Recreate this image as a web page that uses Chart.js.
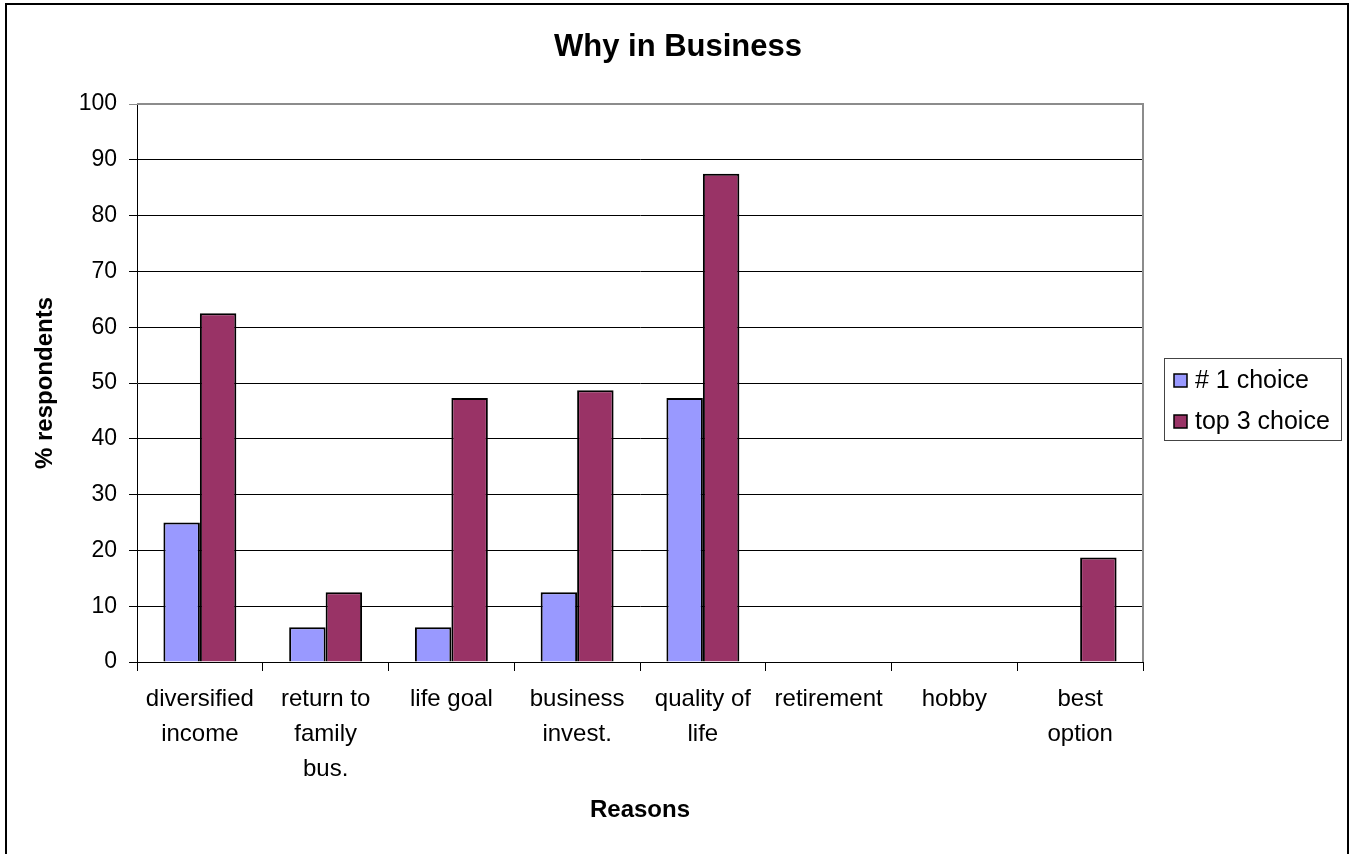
<!DOCTYPE html>
<html>
<head>
<meta charset="utf-8">
<title>Why in Business</title>
<script src="https://cdn.jsdelivr.net/npm/chart.js@4.4.1/dist/chart.umd.min.js"></script>
<style>
  html, body { margin: 0; padding: 0; background: #fff; }
  canvas { display: block; }
</style>
</head>
<body>
<canvas id="whyChart" width="1351" height="854"></canvas>
<script>
// 🔹 Chart data
const reasons = [
    ["diversified", "income"],
    ["return to", "family", "bus."],
    ["life goal"],
    ["business", "invest."],
    ["quality of", "life"],
    ["retirement"],
    ["hobby"],
    ["best", "option"]
];
const firstChoice = [25, 6.25, 6.25, 12.5, 47.3, 0, 0, 0];
const topThreeChoice = [62.5, 12.5, 47.3, 48.7, 87.5, 0, 0, 18.75];
const seriesNames = ["# 1 choice", "top 3 choice"];
const yTicks = [0, 10, 20, 30, 40, 50, 60, 70, 80, 90, 100];

const FONT = "'Liberation Sans', Arial, sans-serif";
Chart.defaults.font.family = FONT;
Chart.defaults.color = "#000";

// 🔹 Background, frame, title and legend box
const framePlugin = {
    id: "frame",
    beforeDraw(chart) {
        const ctx = chart.ctx;
        ctx.save();
        ctx.fillStyle = "#fff";
        ctx.fillRect(0, 0, chart.width, chart.height);
        ctx.restore();
    },
    afterDraw(chart) {
        const { ctx, chartArea: a } = chart;
        ctx.save();

        // grey top and right edges of the plot area
        ctx.strokeStyle = "#8c8c8c";
        ctx.lineWidth = 2;
        ctx.beginPath();
        ctx.moveTo(a.left, a.top);
        ctx.lineTo(a.right, a.top);
        ctx.lineTo(a.right, a.bottom);
        ctx.stroke();

        // outer chart border
        ctx.strokeStyle = "#000";
        ctx.lineWidth = 2;
        ctx.beginPath();
        ctx.moveTo(6, chart.height + 2);
        ctx.lineTo(6, 4);
        ctx.lineTo(1348, 4);
        ctx.lineTo(1348, chart.height + 2);
        ctx.stroke();

        // title
        ctx.fillStyle = "#000";
        ctx.font = "bold 31px " + FONT;
        ctx.textAlign = "center";
        ctx.textBaseline = "middle";
        ctx.fillText("Why in Business", 678, 47);

        // legend
        const lx = 1164, ly = 358, lw = 177, lh = 82;
        ctx.strokeStyle = "#444";
        ctx.lineWidth = 1;
        ctx.strokeRect(lx + 0.5, ly + 0.5, lw, lh);
        ctx.font = "25px " + FONT;
        ctx.textAlign = "left";
        chart.data.datasets.forEach((ds, i) => {
            const cy = 381 + i * 41;
            ctx.fillStyle = ds.backgroundColor;
            ctx.fillRect(1174, cy - 7, 13, 13);
            ctx.strokeStyle = "#000";
            ctx.lineWidth = 1.5;
            ctx.strokeRect(1174, cy - 7, 13, 13);
            ctx.fillStyle = "#000";
            ctx.fillText(ds.label, 1195, cy);
        });
        ctx.restore();
    }
};

const chart = new Chart(document.getElementById("whyChart").getContext("2d"), {
    type: "bar",
    data: {
        labels: reasons,
        datasets: [
            { label: seriesNames[0], data: firstChoice, backgroundColor: "#9999ff", borderColor: "#000", borderWidth: 2 },
            { label: seriesNames[1], data: topThreeChoice, backgroundColor: "#993366", borderColor: "#000", borderWidth: 2 }
        ]
    },
    options: {
        responsive: false,
        animation: false,
        devicePixelRatio: 1,
        layout: { padding: { left: 0, top: 104, right: 208, bottom: 0 } },
        datasets: { bar: { categoryPercentage: 0.58, barPercentage: 1.0 } },
        plugins: {
            legend: { display: false },
            title: { display: false },
            tooltip: { enabled: false }
        },
        scales: {
            x: {
                offset: true,
                grid: { offset: true, drawOnChartArea: false, drawTicks: true, tickLength: 9, color: "#000" },
                border: { display: true, color: "#000", width: 1 },
                ticks: { autoSkip: false, maxRotation: 0, padding: 11, font: { size: 24, lineHeight: 1.45 } },
                title: { display: true, text: "Reasons", font: { size: 24, weight: "bold" }, padding: { top: 0, bottom: 29 } },
                afterFit(scale) { scale.height = 192; }
            },
            y: {
                min: 0,
                max: 100,
                afterBuildTicks(scale) { scale.ticks = yTicks.map(v => ({ value: v })); },
                grid: {
                    color: c => (c.tick && c.tick.value === 100 ? "#8c8c8c" : "#000"),
                    tickLength: 8,
                    drawTicks: true
                },
                border: { display: true, color: "#000", width: 1 },
                ticks: { padding: 12, font: { size: 23 } },
                title: { display: true, text: "% respondents", font: { size: 24, weight: "bold" }, padding: { top: 31, bottom: 0 } },
                afterFit(scale) { scale.width = 137; }
            }
        }
    },
    plugins: [framePlugin]
});
</script>
</body>
</html>
